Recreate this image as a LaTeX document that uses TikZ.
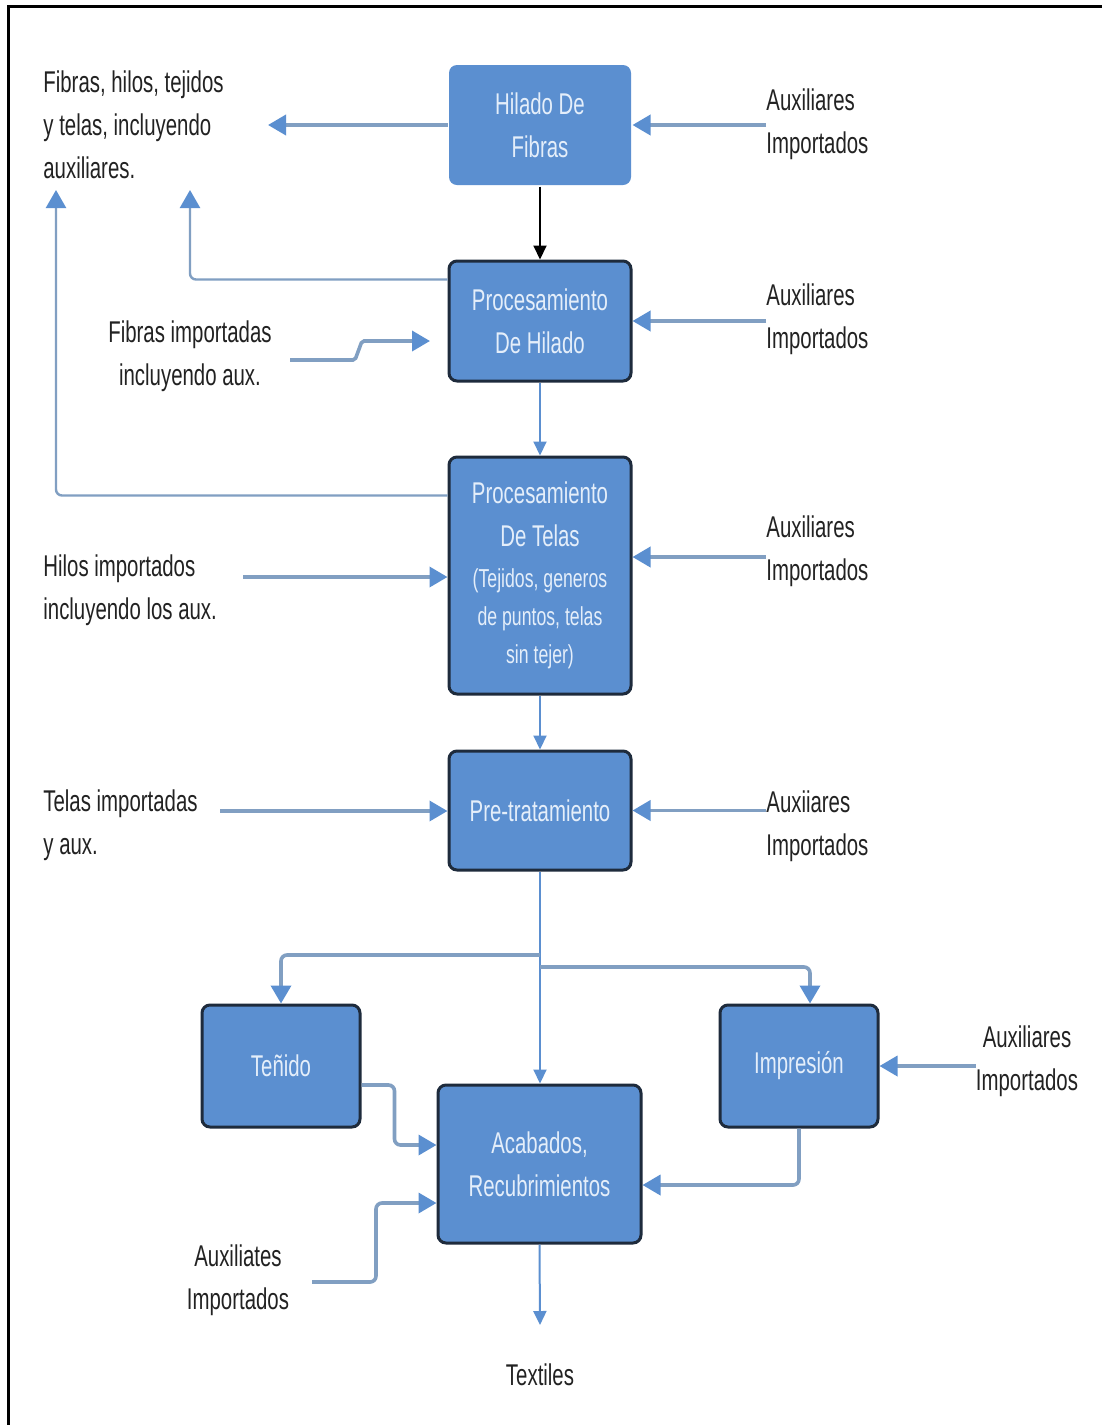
\documentclass[tikz,border=0pt]{standalone}
\usepackage{fontspec}
\setmainfont{Liberation Sans}[FakeStretch=0.68]
\usetikzlibrary{arrows.meta,calc}

\definecolor{boxblue}{HTML}{5B8FD0}
\definecolor{boxedge}{HTML}{1E2B3C}
\definecolor{boxtext}{HTML}{E4EEFA}
\definecolor{linegrey}{HTML}{819FC2}
\definecolor{tipblue}{HTML}{5B8FD0}
\definecolor{labeltext}{HTML}{222222}

\newcommand{\smalltxt}{\fontsize{13}{18.5}\selectfont}

\tikzset{
  procbox/.style={rectangle, rounded corners=4pt, fill=boxblue, draw=boxedge,
    line width=1.5pt, text=boxtext, align=center, inner sep=2pt,
    font=\fontsize{15}{21.5}\selectfont},
  lbl/.style={text=labeltext, inner sep=0pt, align=left,
    font=\fontsize{15}{21.5}\selectfont},
  lblc/.style={lbl, align=center},
  feed/.style={draw=linegrey, line width=1.8pt, rounded corners=3pt,
    -{Triangle[length=9pt,width=10pt,color=tipblue]}},
  back/.style={draw=linegrey, line width=1.2pt, rounded corners=3pt,
    -{Triangle[length=9pt,width=10pt,color=tipblue]}},
  trunk/.style={draw=tipblue, line width=1pt,
    -{Triangle[length=7pt,width=6.5pt,color=tipblue]}},
  blk/.style={draw=black, line width=1pt,
    -{Triangle[length=7pt,width=6.5pt]}}
}

\begin{document}
\begin{tikzpicture}[x=0.5pt,y=-0.5pt]
\useasboundingbox (0,0) rectangle (1102,1425);
\fill[white] (0,0) rectangle (1102,1425);
\draw[black, line width=1.5pt] (8,1425) -- (8,6) -- (1102,6);

% process boxes
\node[procbox, draw=none, minimum width=91pt, minimum height=60pt] (hil) at (540,125) {Hilado De\\Fibras};
\node[procbox, minimum width=91pt, minimum height=60pt] (proH) at (540,321) {Procesamiento\\De Hilado};
\node[procbox, minimum width=91pt, minimum height=118.5pt] (proT) at (540,575.5)
  {Procesamiento\\De Telas\\[-1pt]\smalltxt (Tejidos, generos\\[-2.5pt]\smalltxt de puntos, telas\\[-2.5pt]\smalltxt sin tejer)};
\node[procbox, minimum width=91pt, minimum height=59.5pt] (pre) at (540,810.5) {Pre-tratamiento};
\node[procbox, minimum width=79pt, minimum height=61pt] (ten) at (281,1066) {Teñido};
\node[procbox, minimum width=79pt, minimum height=61pt] (imp) at (799,1066) {Impresión};
\node[procbox, minimum width=101.5pt, minimum height=79pt] (aca) at (539.5,1164) {Acabados,\\Recubrimientos};

% labels
\node[lbl, anchor=west] (out) at (43,125) {Fibras, hilos, tejidos\\y telas, incluyendo\\auxiliares.};
\node[lbl, anchor=west] (aux1) at (766,124) {Auxiliares\\Importados};
\node[lbl, anchor=west] (aux2) at (766,319) {Auxiliares\\Importados};
\node[lbl, anchor=west] (aux3) at (766,551) {Auxiliares\\Importados};
\node[lbl, anchor=west] (aux4) at (766,826) {Auxiiares\\Importados};
\node[lblc] (aux5) at (1027,1061) {Auxiliares\\Importados};
\node[lblc] (fib) at (190,356) {Fibras importadas\\incluyendo aux.};
\node[lbl, anchor=west] (hilos) at (43,590) {Hilos importados\\incluyendo los aux.};
\node[lbl, anchor=west] (telas) at (43,825) {Telas importadas\\y aux.};
\node[lblc] (auxB) at (238,1280) {Auxiliates\\Importados};
\node[lblc] (txt) at (540,1375) {Textiles};

% free ends of connectors
\coordinate (outTip) at (268,125);
\coordinate (upA) at (190,190);
\coordinate (upB) at (56,190);
\coordinate (fibS) at (290,360);
\coordinate (fibE) at (430,341);
\coordinate (hilosS) at (243,577);
\coordinate (a3) at (766,557);
\coordinate (telasS) at (220,811);
\coordinate (brL) at (540,955);
\coordinate (brR) at (540,967);
\coordinate (bS) at (312,1282);
\coordinate (txtTip) at (540,1325);

% connectors
\draw[feed] (hil.west) -- (outTip);
\draw[feed] (aux1.west |- hil.east) -- (hil.east);
\draw[blk] (hil.south) -- (proH.north);
\draw[back] ($(proH.north west)+(0,20)$) -| (upA);
\draw[back] ($(proT.north west)+(0,40)$) -| (upB);
\draw[feed, rounded corners=1pt] (fibS) -- ++(65,0) -- ++(7,-19) -- (fibE);
\draw[feed] (aux2.west |- proH.east) -- (proH.east);
\draw[trunk] (proH.south) -- (proT.north);
\draw[feed] (hilosS) -- (hilosS -| proT.west);
\draw[feed] (a3) -- (a3 -| proT.east);
\draw[trunk] (proT.south) -- (pre.north);
\draw[feed] (telasS) -- (telasS -| pre.west);
\draw[feed] (aux4.west |- pre.east) -- (pre.east);
\draw[trunk] (pre.south) -- (pre.south |- aca.north);
\draw[feed] (brL) -| (ten.north);
\draw[feed] (brR) -| ([xshift=5.5pt]imp.north);
\draw[feed] ($(ten.east)+(0,19)$) -- ++(33,0) |- ($(aca.west)+(0,-19)$);
\draw[feed] (imp.south) |- ($(aca.east)+(0,21)$);
\draw[feed] (bS) -- ++(64,0) |- ($(aca.west)+(0,39)$);
\draw[feed] (aux5.west |- imp.east) -- (imp.east);
\draw[trunk] (aca.south) -- (txtTip);
\end{tikzpicture}
\end{document}
